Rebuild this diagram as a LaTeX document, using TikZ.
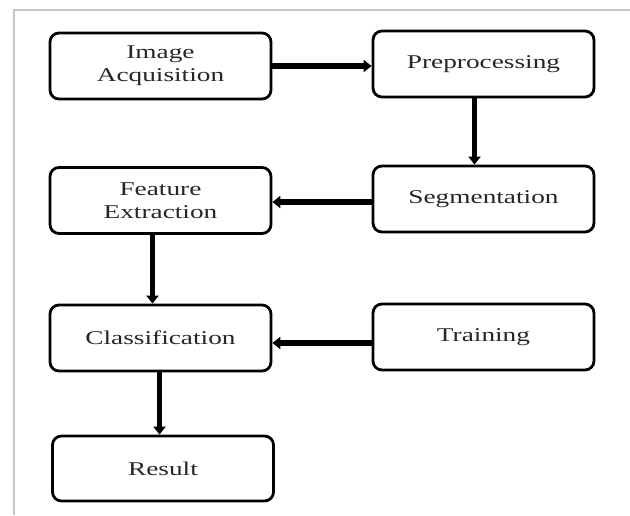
\documentclass[tikz,border=0pt]{standalone}
\usepackage{fontspec}
\setmainfont{Liberation Serif}[FakeStretch=1.4]
\usetikzlibrary{arrows.meta}
\begin{document}
\begin{tikzpicture}[x=1pt,y=-1pt,
  stagebox/.style={draw=black, line width=2.8pt, rounded corners=9pt,
    minimum width=221pt, minimum height=66pt, inner sep=0pt,
    align=center, text=black!85, font=\fontsize{19.5}{23}\selectfont},
  flow/.style={line width=5.5pt, -{Triangle[length=8pt,width=12pt]}}]
\useasboundingbox (0,0) rectangle (630,515);
\fill[white] (0,0) rectangle (630,515);
% page frame
\draw[black!22, line width=2pt] (14,515) -- (14,10) -- (630,10);
% nodes
\node[stagebox] (ia) at (160.5,66) {Image\\Acquisition};
\node[stagebox] (pp) at (483.5,64) {Preprocessing};
\node[stagebox] (sg) at (483.5,199) {Segmentation};
\node[stagebox] (fe) at (160.5,200.5) {Feature\\Extraction};
\node[stagebox] (cl) at (160.5,338) {Classification};
\node[stagebox] (tr) at (483.5,337) {Training};
\node[stagebox, minimum height=65pt] (rs) at (163,468.5) {Result};
% connectors
\draw[flow] (ia.east) -- (ia.east -| pp.west);
\draw[flow] ([xshift=-9pt]pp.south) -- ([xshift=-9pt]pp.south |- sg.north);
\draw[flow] ([yshift=-3pt]sg.west) -- ([yshift=-3pt]sg.west -| fe.east);
\draw[flow] ([xshift=-8pt]fe.south) -- ([xshift=-8pt]fe.south |- cl.north);
\draw[flow] ([yshift=-6pt]tr.west) -- ([yshift=-6pt]tr.west -| cl.east);
\draw[flow] ([xshift=-1pt]cl.south) -- ([xshift=-1pt]cl.south |- rs.north);
\end{tikzpicture}
\end{document}
